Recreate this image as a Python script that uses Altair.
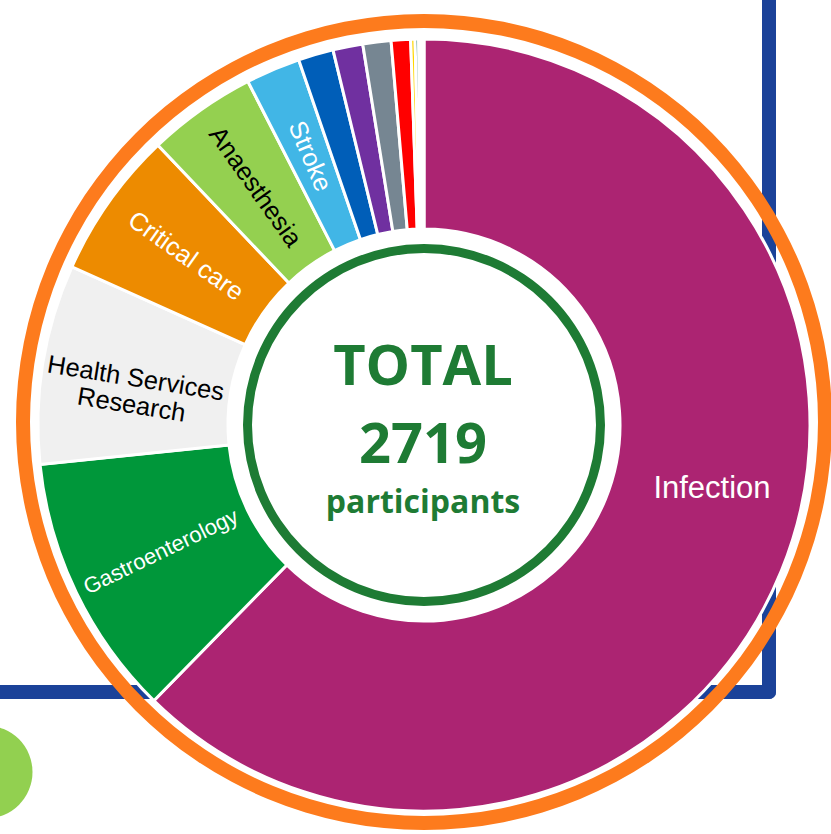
import math
import altair as alt
import pandas as pd

# ---- data ----
categories = ["Infection", "Gastroenterology", "Health Services Research", "Critical care",
              "Anaesthesia", "Stroke", "Other 1", "Other 2", "Other 3", "Other 4",
              "Other 5", "Other 6", "Other 7"]
participants = [1695, 300, 227, 168, 124, 62, 40, 34, 32, 22, 5, 4, 6]
slice_colors = ["#AC2472", "#00973A", "#F0F0F0", "#ED8B00", "#94D050", "#41B6E6",
                "#005EB8", "#7030A0", "#768692", "#FF0000", "#FFD700", "#006747", "#FFFFFF"]
labels = ["", "Gastroenterology", "Health Services\nResearch", "Critical care",
          "Anaesthesia", "Stroke", "", "", "", "", "", "", ""]
dark_label_categories = ["Health Services Research", "Anaesthesia"]

df = pd.DataFrame({
    "name": categories,
    "n": participants,
    "label": labels,
    "ord": list(range(len(categories))),
})
one = pd.DataFrame({"k": [0]})

CX, CY = 424, 425
GREEN = "#1E7B34"
ORANGE = "#FD7B1D"
BLUE = "#1B4299"
TWO_PI = 2 * math.pi

# blue frame behind
frame_v = alt.Chart(one).mark_rule(color=BLUE, strokeWidth=14, strokeCap="round").encode(
    x=alt.value(769), y=alt.value(-20), y2=alt.value(692))
frame_h = alt.Chart(one).mark_rule(color=BLUE, strokeWidth=14, strokeCap="round").encode(
    x=alt.value(-20), x2=alt.value(769), y=alt.value(692))

# green dot bottom-left
dot = alt.Chart(one).mark_point(shape="circle", filled=True, color="#92D050", opacity=1,
                                size=93 * 93).encode(x=alt.value(-14), y=alt.value(772))

# orange outer ring
ring = alt.Chart(one).mark_arc(radius=408, radius2=394, theta=0, theta2=TWO_PI,
                               color=ORANGE).encode(x=alt.value(CX), y=alt.value(422))

# donut slices
arcs = alt.Chart(df).mark_arc(radius=386, radius2=196, stroke="white", strokeWidth=3).encode(
    theta=alt.Theta("n:Q", stack=True),
    order=alt.Order("ord:Q"),
    color=alt.Color("name:N", scale=alt.Scale(domain=categories, range=slice_colors), legend=None),
    x=alt.value(CX), y=alt.value(CY),
)

# radial slice labels
slice_labels = alt.Chart(df).transform_joinaggregate(
    total="sum(n)"
).transform_window(
    cum="sum(n)", sort=[alt.SortField("ord")], frame=[None, 0]
).transform_calculate(
    rot="((datum.cum - datum.n / 2) / datum.total * 360 - 270 + 720) % 360"
).mark_text(radius=292, font="Liberation Sans", align="center", baseline="middle",
            lineBreak="\n", lineHeight=27).encode(
    theta=alt.Theta("n:Q", stack=True),
    order=alt.Order("ord:Q"),
    text=alt.Text("label:N"),
    angle=alt.Angle("rot:Q", scale=None),
    color=alt.condition(
        "indexof(" + str(dark_label_categories) + ", datum.name) >= 0",
        alt.value("black"), alt.value("white")),
    size=alt.condition("datum.name == 'Gastroenterology'", alt.value(22), alt.value(25.5)),
    x=alt.value(CX), y=alt.value(CY),
)

infection_label = alt.Chart(df).transform_filter("datum.ord == 0").mark_text(
    font="Liberation Sans", fontSize=31, color="white", align="center", baseline="alphabetic"
).encode(text="name:N", x=alt.value(712), y=alt.value(498))

# inner green circle
inner_ring = alt.Chart(one).mark_arc(radius=181, radius2=172, theta=0, theta2=TWO_PI,
                                     color=GREEN).encode(x=alt.value(CX), y=alt.value(CY))

total_word = alt.Chart(one).mark_text(text="TOTAL", font="Open Sans", fontWeight="bold",
                                      fontSize=56, color=GREEN, align="center",
                                      baseline="alphabetic").encode(
    x=alt.value(CX - 1), y=alt.value(385))
total_num = alt.Chart(df).transform_aggregate(total="sum(n)").mark_text(
    font="Open Sans", fontWeight="bold", fontSize=56, color=GREEN, align="center",
    baseline="alphabetic").encode(text="total:Q", x=alt.value(CX - 1), y=alt.value(463))
total_unit = alt.Chart(one).mark_text(text="participants", font="Open Sans", fontWeight="bold",
                                      fontSize=32, color=GREEN, align="center",
                                      baseline="alphabetic").encode(
    x=alt.value(CX - 1), y=alt.value(513))

chart = alt.layer(
    frame_v, frame_h, dot, ring, arcs, slice_labels, infection_label,
    inner_ring, total_word, total_num, total_unit
).properties(
    width=831, height=834, padding=0, background="white",
    autosize=alt.AutoSizeParams(type="none"),
).configure_view(stroke=None)

chart.save("out.html", embed_options={"renderer": "svg", "actions": False})
